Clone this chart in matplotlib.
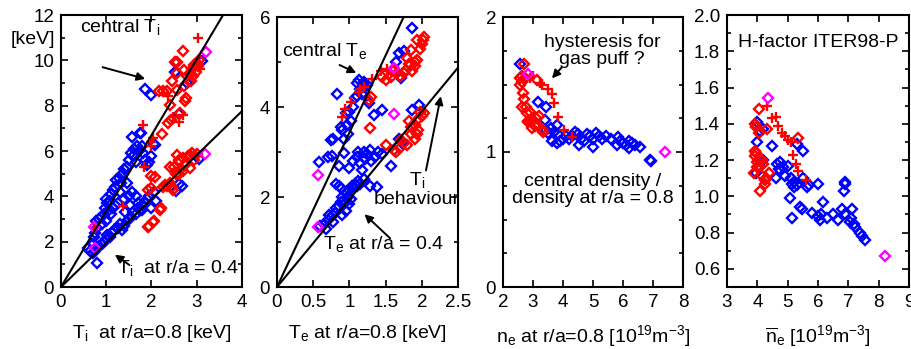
import matplotlib
matplotlib.use("Agg")
import matplotlib.pyplot as plt
import numpy as np
from matplotlib.ticker import MultipleLocator, FormatStrFormatter

plt.rcParams['font.family'] = ['Liberation Sans', 'DejaVu Sans']
plt.rcParams['mathtext.fontset'] = 'custom'
plt.rcParams['mathtext.rm'] = 'Liberation Sans'
plt.rcParams['mathtext.it'] = 'Liberation Sans'
plt.rcParams['mathtext.default'] = 'regular'

BLUE, RED, MAG = '#0000ff', '#ff0000', '#ff00ff'
FS = 14

# ---- panel 1: Ti central / Ti(0.4) vs Ti(0.8) ----
p1_blue = [(0.65,1.6),(0.70,1.9),(0.72,2.2),(0.75,2.4),(0.80,2.6),(0.78,2.9),(0.85,3.0),(0.90,2.8),
           (0.95,3.2),(0.98,3.5),(1.02,3.7),(1.05,3.4),(1.08,3.8),(1.00,3.9),(1.10,4.1),(1.15,4.3),
           (1.20,4.4),(1.22,4.7),(1.28,4.8),(1.32,4.6),(1.35,5.0),(1.40,5.2),(1.45,5.3),(1.50,5.6),
           (1.55,5.9),(1.60,5.8),(1.62,6.1),(1.68,6.2),(1.72,6.0),(1.78,6.2),(1.82,5.9),(1.85,5.6),
           (1.90,5.4),(1.95,5.5),(2.05,6.3),(2.00,5.8),(1.58,6.6),(1.75,6.8),(1.65,5.5),(1.45,4.6),
           (1.30,4.2),(1.20,3.6),(1.10,3.2),(1.00,2.9),(0.88,3.1),
           (1.15,3.5),(1.25,3.7),(1.40,3.9),(1.50,4.0),(1.58,4.2),(1.65,4.0),(1.70,3.7),(1.75,3.4),(1.80,3.6),
           (0.70,1.5),(0.75,1.6),(0.80,1.7),(0.85,1.8),(0.90,1.9),(0.95,2.0),(1.00,2.1),(1.02,2.3),
           (1.08,2.2),(1.12,2.4),(1.18,2.5),(1.25,2.6),(1.30,2.8),(1.35,2.5),(1.40,2.7),(1.45,2.9),
           (1.50,3.0),(1.55,3.1),(1.60,3.3),(1.65,3.2),(1.70,3.5),(1.78,3.4),(1.85,3.7),(1.90,3.9),
           (1.95,4.0),(2.05,4.2),(2.00,3.5),(2.10,3.8),(1.52,3.6),(1.42,3.3),(0.80,1.05),(0.60,1.7),
           (2.55,9.9),(2.52,9.47),(1.86,8.75),(1.98,8.48),(2.78,9.0),(2.60,7.63),(1.76,6.81),
           (2.08,6.27),(3.11,9.96),(2.68,4.45),(2.60,4.55),(3.05,5.65),(2.55,4.25)]
p1_red = [(2.70,10.43),(2.51,9.91),(2.56,9.91),(2.71,9.59),(2.56,9.44),(2.45,9.10),(2.78,9.29),
          (2.17,8.63),(2.26,8.66),(2.35,8.63),(2.56,8.70),(2.71,8.85),(2.76,8.34),(2.74,8.19),
          (2.40,8.04),(2.63,7.67),(2.37,7.23),(2.44,7.38),(2.23,6.74),(2.85,9.4),(2.90,9.6),
          (2.95,9.8),(3.00,9.9),(3.05,10.0),(2.92,9.3),(2.98,9.5),(3.02,9.75),(2.88,9.1),
          (2.60,5.6),(2.70,5.7),(2.75,5.4),(2.80,5.8),(2.90,5.9),(2.95,5.6),(3.00,5.85),(2.65,5.2),
          (2.55,5.0),(2.50,5.3),(2.45,4.4),(2.35,4.45),(2.30,4.5),(2.40,4.6),(2.60,5.0),(2.70,5.1),
          (2.85,5.25),(2.00,4.9),(2.00,4.35),(1.95,2.7),(2.05,2.9),(2.20,3.5),(2.56,5.83),
          (2.85,5.83),(2.41,5.31),(2.26,4.43),(2.48,4.3),(1.93,4.28),(2.19,3.39),(2.04,2.88),
          (1.93,2.65),(2.08,4.87)]
p1_plus = [(3.02,10.99),(1.82,7.16),(2.04,6.56),(2.37,8.41),(2.48,7.5),(1.36,3.57),(1.84,5.31),
           (1.98,6.23),(3.05,9.8),(3.08,9.6),(2.60,7.3),(2.70,7.6),(0.75,2.6),(2.00,6.4)]
p1_mag = [(3.21,10.37),(3.19,5.87),(0.75,1.70),(0.73,2.63)]
p1_slopes = [3.35, 1.94]

# ---- panel 2: Te central / Te(0.4) vs Te(0.8) ----
p2_blue = [(0.58,2.78),(0.71,2.90),(0.76,2.92),(0.74,3.27),(0.78,3.3),(0.81,2.30),(0.85,2.68),
           (0.83,4.30),(0.88,3.56),(0.92,2.97),(0.95,3.86),(0.90,3.5),(0.93,3.3),(0.97,3.6),
           (1.00,3.9),(1.02,3.7),(1.05,4.0),(1.08,4.2),(1.11,4.53),(1.15,4.4),(1.18,4.3),(1.20,4.56),
           (1.22,4.45),(1.25,4.5),(1.27,4.08),(1.13,4.6),(1.10,4.25),(0.98,3.4),(1.34,3.82),
           (1.45,3.93),(1.87,3.93),(1.96,4.04),(1.57,2.69),(1.38,2.23),(1.87,5.75),(1.68,5.19),
           (1.75,5.24),(1.65,5.0),(1.71,4.64),
           (1.00,2.65),(1.05,2.8),(1.10,2.9),(1.15,2.75),(1.20,3.0),(1.22,2.85),(1.25,2.95),
           (1.28,3.05),(1.30,2.8),(1.35,2.9),(1.40,3.0),(1.12,3.0),(1.18,2.6),(1.45,2.95),
           (1.62,3.05),(1.68,3.3),(1.72,3.2),
           (0.60,1.35),(0.65,1.4),(0.70,1.5),(0.72,1.6),(0.75,1.55),(0.80,1.65),(0.82,1.75),
           (0.85,1.8),(0.88,1.9),(0.90,2.0),(0.92,1.85),(0.95,2.1),(0.98,2.0),(1.00,2.15),
           (1.03,2.25),(1.05,2.2),(1.08,2.3),(1.10,2.25),(1.12,2.35),(1.15,2.3),(1.20,2.4),
           (1.28,2.25),(0.85,2.25),(0.88,2.2),(0.78,1.45),(0.68,1.3),(0.95,1.7),(1.00,1.85),
           (0.90,1.6),(1.02,1.95)]
p2_red = [(1.45,4.67),(2.03,5.56),(1.94,5.48),(1.85,5.26),(1.80,5.10),(1.94,5.04),(1.66,4.75),
          (1.57,4.67),(1.78,4.82),(1.87,4.79),(1.30,4.23),(1.29,3.53),(2.00,5.4),(1.98,5.3),
          (1.90,5.0),(1.83,4.95),(1.75,4.75),(1.70,4.7),(1.60,4.8),(1.50,4.6),(1.90,4.9),
          (2.02,5.5),(1.27,4.15),
          (2.03,3.86),(1.94,3.71),(1.85,3.41),(1.94,3.41),(1.71,3.27),(1.80,3.15),(1.62,3.05),
          (1.50,3.15),(1.90,3.6),(1.95,3.5),(2.00,3.8),(1.85,3.55),(1.75,3.2),(1.65,3.0),
          (1.90,3.3),(1.98,3.9),(1.82,3.7),(1.70,3.1)]
p2_plus = [(0.90,3.78),(0.94,3.96),(1.02,4.12),(1.13,4.34),(1.20,4.45),(1.31,4.63),(1.15,4.4),
           (1.43,4.8),(1.52,4.85),(1.58,4.75)]
p2_mag = [(1.62,4.86),(1.62,3.85),(0.57,2.49),(0.57,1.34)]
p2_slopes = [3.43, 1.95]

# ---- panel 3: density peaking vs ne(0.8) ----
p3_blue = [(2.57,1.65),(3.18,1.37),(3.42,1.33),(3.40,1.24),(3.51,1.14),(3.45,1.16),(3.60,1.18),
           (3.70,1.15),(3.80,1.2),(3.65,1.08),(3.80,1.07),(3.90,1.08),(4.00,1.1),(4.10,1.12),
           (4.20,1.1),(4.30,1.12),(4.40,1.15),(4.50,1.13),(4.60,1.1),(4.70,1.08),(4.80,1.13),
           (4.90,1.12),(5.00,1.1),(5.01,1.04),(5.10,1.14),(5.20,1.12),(5.30,1.1),(5.43,1.12),
           (5.60,1.1),(5.83,1.11),(5.90,1.08),(6.00,1.07),(6.10,1.05),(6.20,1.08),(6.29,1.07),
           (6.40,1.05),(6.57,1.04),(6.90,0.94),(6.95,0.93),(4.55,1.05),(3.85,1.13),(5.80,1.05),
           (6.20,1.03)]
p3_red = [(2.57,1.55),(2.62,1.52),(2.58,1.50),(2.68,1.44),(2.69,1.39),(3.12,1.53),(2.62,1.33),
          (2.78,1.33),(2.80,1.29),(2.84,1.23),(2.94,1.23),(3.00,1.24),(2.96,1.18),(3.06,1.19),
          (3.29,1.17),(2.70,1.65),(2.65,1.56),(2.90,1.3),(3.10,1.25),(3.20,1.27),(2.75,1.55),
          (2.85,1.22),(3.15,1.2),(3.35,1.15)]
p3_plus = [(3.01,1.56),(3.23,1.51),(3.51,1.47),(3.62,1.43),(3.71,1.36),(3.84,1.26),(4.04,1.16),
           (4.29,1.11),(2.90,1.55),(3.30,1.5)]
p3_mag = [(2.82,1.58),(7.40,1.00)]

# ---- panel 4: H-factor vs line averaged density ----
p4_blue = [(3.98,1.30),(4.47,1.28),(5.52,1.25),(5.30,1.29),(4.20,1.20),(4.64,1.18),(4.71,1.15),
           (4.84,1.16),(4.60,1.10),(4.91,1.11),(5.14,1.07),(5.20,1.05),(5.63,1.05),(6.01,1.07),
           (6.89,1.08),(6.86,1.03),(5.08,0.99),(5.41,0.94),(5.46,0.93),(5.14,0.88),(5.80,0.91),
           (6.01,0.89),(6.18,0.97),(6.07,0.87),(6.29,0.88),(6.51,0.90),(6.67,0.87),(6.79,0.93),
           (6.89,0.90),(7.12,0.93),(7.06,0.86),(7.10,0.88),(7.22,0.83),(7.39,0.80),(7.55,0.76),
           (7.45,0.78),(4.00,1.41),(4.10,1.36),(3.95,1.13),(4.20,1.37),(5.00,1.17),(5.10,1.1),
           (5.20,1.08),(5.30,1.06),(4.75,1.19),(5.50,1.1),(5.70,1.06),(6.10,0.9),(6.90,1.07),
           (7.20,0.85),(4.05,1.2)]
p4_red = [(3.92,1.25),(3.92,1.22),(3.98,1.19),(4.07,1.17),(4.13,1.12),(4.25,1.09),(4.09,1.03),
          (4.37,1.13),(5.35,1.32),(4.06,1.48),(4.33,1.37),(4.07,1.35),(3.92,1.40),(3.95,1.38),
          (3.90,1.13),(4.20,1.18),(4.25,1.07),(4.30,1.1),(4.00,1.16),(4.15,1.2),(3.95,1.24)]
p4_plus = [(4.33,1.50),(4.50,1.43),(4.60,1.44),(4.69,1.39),(4.80,1.35),(4.90,1.33),(5.00,1.31),
           (5.10,1.30),(5.16,1.23),(5.26,1.18),(5.35,1.14),(5.61,1.09)]
p4_mag = [(4.36,1.54),(8.21,0.67)]


def scatter_set(ax, blue, red, plus, mag):
    for pts, c in [(blue, BLUE), (red, RED)]:
        a = np.array(pts)
        ax.plot(a[:, 0], a[:, 1], 'D', ms=5.5, mfc='none', mec=c, mew=1.7, zorder=3)
    a = np.array(plus)
    ax.plot(a[:, 0], a[:, 1], '+', ms=7.5, color=RED, mew=1.7, zorder=4)
    a = np.array(mag)
    ax.plot(a[:, 0], a[:, 1], 'D', ms=5.5, mfc='none', mec=MAG, mew=1.7, zorder=5)


def style(ax, xlim, ylim, xmaj, ymaj, ymin, fmt='%g'):
    ax.set_xlim(*xlim)
    ax.set_ylim(*ylim)
    ax.xaxis.set_major_locator(MultipleLocator(xmaj))
    ax.yaxis.set_major_locator(MultipleLocator(ymaj))
    ax.yaxis.set_minor_locator(MultipleLocator(ymin))
    ax.xaxis.set_major_formatter(FormatStrFormatter('%g'))
    ax.yaxis.set_major_formatter(FormatStrFormatter(fmt))
    ax.tick_params(which='both', direction='in', top=True, right=True, labelsize=13.5, width=1.2, pad=5)
    ax.tick_params(which='major', length=5)
    ax.tick_params(which='minor', length=3)
    for s in ax.spines.values():
        s.set_linewidth(1.5)


def arrow(ax, text_xy, head_xy):
    ax.annotate('', xy=head_xy, xytext=text_xy,
                arrowprops=dict(arrowstyle='-|>', color='black', lw=1.4, mutation_scale=12))


fig = plt.figure(figsize=(9.12, 3.49), dpi=100)
W, H = 912, 349


def axes_px(l, t, r, b):
    return fig.add_axes([l / W, 1 - b / H, (r - l) / W, (b - t) / H])


# panel 1
ax1 = axes_px(61, 15, 242, 287)
scatter_set(ax1, p1_blue, p1_red, p1_plus, p1_mag)
xx = np.array([0, 4])
for k in p1_slopes:
    ax1.plot(xx, k * xx, color='black', lw=1.5, zorder=6)
style(ax1, (0, 4), (0, 12), 1, 2, 1)
ax1.text(0.42, 11.45, 'central $T_i$', fontsize=FS, va='center')
arrow(ax1, (0.86, 9.73), (1.92, 9.15))
ax1.text(1.24, 0.83, '$T_i$  at r/a = 0.4', fontsize=FS, va='center')
arrow(ax1, (1.56, 0.9), (1.14, 1.5))
ax1.text(-0.12, 10.9, '[keV]', fontsize=FS, ha='right', va='center')
ax1.set_xlabel('$T_i$  at r/a=0.8 [keV]', fontsize=FS, labelpad=9)

# panel 2
ax2 = axes_px(277, 17, 458, 287)
scatter_set(ax2, p2_blue, p2_red, p2_plus, p2_mag)
xx = np.array([0, 2.5])
for k in p2_slopes:
    ax2.plot(xx, k * xx, color='black', lw=1.5, zorder=6)
style(ax2, (0, 2.5), (0, 6), 0.5, 2, 1)
ax2.text(0.07, 5.25, 'central $T_e$', fontsize=FS, va='center')
arrow(ax2, (0.83, 4.96), (1.13, 4.73))
ax2.text(1.82, 2.38, '$T_i$', fontsize=FS, va='center')
ax2.text(1.34, 1.95, 'behaviour', fontsize=FS, va='center')
arrow(ax2, (2.05, 2.53), (2.27, 4.3))
ax2.text(0.64, 0.95, '$T_e$ at r/a = 0.4', fontsize=FS, va='center')
arrow(ax2, (1.59, 1.04), (1.18, 1.66))
ax2.set_xlabel('$T_e$ at r/a=0.8 [keV]', fontsize=FS, labelpad=9)

# panel 3
ax3 = axes_px(503, 17, 683, 287)
scatter_set(ax3, p3_blue, p3_red, p3_plus, p3_mag)
style(ax3, (2, 8), (0, 2), 1, 1, 0.25)
ax3.text(5.3, 1.75, 'hysteresis for\ngas puff ?', fontsize=FS, ha='center', va='center',
         linespacing=1.0)
arrow(ax3, (4.01, 1.64), (3.57, 1.53))
ax3.text(5.0, 0.72, 'central density /\ndensity at r/a = 0.8', fontsize=FS, ha='center',
         va='center', linespacing=1.0)
ax3.set_xlabel('$n_e$ at r/a=0.8 [$10^{19}m^{-3}$]', fontsize=FS, labelpad=9)

# panel 4
ax4 = axes_px(727, 15, 909, 287)
scatter_set(ax4, p4_blue, p4_red, p4_plus, p4_mag)
style(ax4, (3, 9), (0.5, 2.0), 1, 0.2, 0.1, fmt='%.1f')
ax4.text(0.5, 0.9, 'H-factor ITER98-P', fontsize=FS, ha='center', va='center',
         transform=ax4.transAxes)
ax4.set_xlabel(r'$\overline{n}_e$ [$10^{19}m^{-3}$]', fontsize=FS, labelpad=9)

fig.savefig('out.png', dpi=100)
